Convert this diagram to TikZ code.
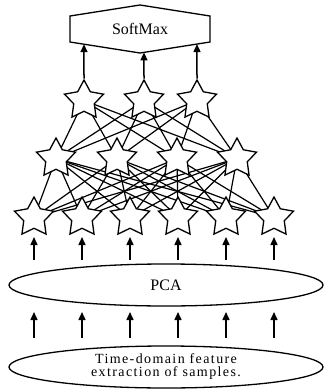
\documentclass[tikz,border=0pt]{standalone}
\usepackage{fontspec}
\setmainfont{Liberation Serif}
\usetikzlibrary{shapes.geometric,arrows.meta,backgrounds}
\begin{document}
\begin{tikzpicture}[x=1pt,y=-1pt,
  starnode/.style={star,star points=5,star point ratio=1.9,minimum size=41pt,inner sep=0pt,draw,fill=white,line width=1.3pt},
  link/.style={line width=1.2pt},
  arr/.style={line width=1.5pt,-{Triangle[width=7pt,length=8pt]}},
  oval/.style={ellipse,draw,line width=1.3pt,minimum width=314pt,minimum height=42pt,inner sep=0pt}]
\useasboundingbox (0,0) rectangle (325,389);
% SoftMax hexagon
\coordinate (hl) at (70,16);
\coordinate (ht) at (140,5);
\coordinate (hr) at (210,16);
\coordinate (hbr) at (210,42);
\coordinate (hb) at (140,53);
\coordinate (hbl) at (70,42);
\draw[line width=1.3pt] (hl) -- (ht) -- (hr) -- (hbr) -- (hb) -- (hbl) -- cycle;
\node[font=\fontsize{16}{18}\selectfont] (sm) at (140,29) {SoftMax};
% stars
\foreach \x [count=\i] in {84,144,197} \node[starnode] (t\i) at (\x,100.5) {};
\foreach \x [count=\i] in {56,117,177,237} \node[starnode] (m\i) at (\x,158.5) {};
\foreach \x [count=\i] in {34,82,130,178,226,274} \node[starnode] (b\i) at (\x,217.5) {};
\begin{pgfonlayer}{background}
\foreach \i in {1,2,3} \foreach \j in {1,...,4} \draw[link] (t\i.center) -- (m\j.center);
\foreach \i in {1,...,4} \foreach \j in {1,...,6} \draw[link] (m\i.center) -- (b\j.center);
\end{pgfonlayer}
% arrows to SoftMax
\draw[arr] (t1.north) -- (intersection of t1.north--t1.center and hbl--hb);
\draw[arr] (t2.north) -- (intersection of t2.north--t2.center and hb--hbr);
\draw[arr] (t3.north) -- (intersection of t3.north--t3.center and hb--hbr);
% ovals
\node[oval,font=\fontsize{16}{18}\selectfont] (pca) at (166,285) {PCA};
\node[oval,align=center,font=\fontsize{14}{13}\selectfont\addfontfeatures{LetterSpace=10}] (tdf) at (166,367) {Time-domain feature\\extraction of samples.};
% arrows
\foreach \i in {1,...,6} {
  \coordinate (ua\i) at ([yshift=-42.5pt]b\i.center);
  \coordinate (ub\i) at ([yshift=-19.5pt]b\i.center);
  \coordinate (la\i) at ([yshift=-120.5pt]b\i.center);
  \coordinate (lb\i) at ([yshift=-94.5pt]b\i.center);
  \draw[arr] (ua\i) -- (ub\i);
  \draw[arr] (la\i) -- (lb\i);
}
\end{tikzpicture}
\end{document}
